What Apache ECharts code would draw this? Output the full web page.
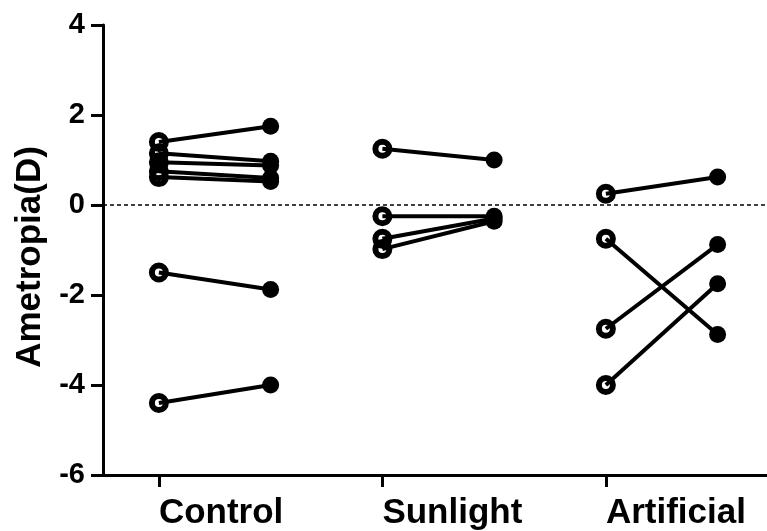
<!DOCTYPE html>
<html>
<head>
<meta charset="utf-8">
<script src="https://cdn.jsdelivr.net/npm/echarts@6/dist/echarts.min.js"></script>
<style>
  html, body { margin: 0; padding: 0; background: #fff; }
  #chart { width: 767px; height: 531px; }
</style>
</head>
<body>
<div id="chart"></div>
<script>
// Group names and tick labels
const groups = ['Control', 'Sunlight', 'Artificial'];
const yTicks = [-6, -4, -2, 0, 2, 4];

// Ametropia (D) per subject: before (open) and after (filled)
const controlBefore    = [1.4, 1.15, 0.95, 0.75, 0.62, -1.5, -4.4];
const controlAfter     = [1.75, 0.97, 0.88, 0.6, 0.52, -1.88, -4.0];
const sunlightBefore   = [1.25, -0.25, -0.75, -0.98];
const sunlightAfter    = [1.0, -0.25, -0.3, -0.36];
const artificialBefore = [0.25, -0.75, -2.75, -4.0];
const artificialAfter  = [0.62, -2.88, -0.88, -1.75];

const groupData = [
  [controlBefore, controlAfter],
  [sunlightBefore, sunlightAfter],
  [artificialBefore, artificialAfter]
];

// x positions: each group gets a "before" slot and an "after" slot
const slotBefore = [1, 3, 5];
const slotAfter  = [2, 4, 6];

const font = '"Liberation Sans", Arial, sans-serif';
const series = [];
const openPts = [];
const filledPts = [];

groupData.forEach(([before, after], g) => {
  before.forEach((v, i) => {
    series.push({
      type: 'line',
      data: [[slotBefore[g], v], [slotAfter[g], after[i]]],
      showSymbol: false,
      symbol: 'none',
      lineStyle: { color: '#000', width: 4 },
      z: 2,
      silent: true
    });
    openPts.push([slotBefore[g], v]);
    filledPts.push([slotAfter[g], after[i]]);
  });
});

series.push({
  type: 'scatter',
  data: openPts,
  symbol: 'circle',
  symbolSize: 14,
  itemStyle: { color: 'rgba(0,0,0,0)', borderColor: '#000', borderWidth: 6, opacity: 1 },
  z: 3
});
series.push({
  type: 'scatter',
  data: filledPts,
  symbol: 'circle',
  symbolSize: 17,
  itemStyle: { color: '#000', opacity: 1 },
  z: 4,
  markLine: {
    silent: true,
    symbol: 'none',
    label: { show: false },
    lineStyle: { color: '#000', width: 1.5, type: [4, 3] },
    data: [{ yAxis: 0 }]
  }
});

const chart = echarts.init(document.getElementById('chart'));
chart.setOption({
  animation: false,
  backgroundColor: '#fff',
  grid: { left: 103, right: 0, top: 25, bottom: 56, containLabel: false, outerBoundsMode: 'none' },
  xAxis: {
    type: 'value',
    min: 0.5,
    max: 0.5 + 664 / 111.75,
    splitLine: { show: false },
    axisLine: { show: true, onZero: false, lineStyle: { color: '#000', width: 3 } },
    axisTick: { show: true, customValues: slotBefore, length: 12, lineStyle: { color: '#000', width: 3 } },
    axisLabel: {
      customValues: slotBefore,
      formatter: (v) => groups[slotBefore.indexOf(v)] || '',
      align: 'left',
      margin: 21,
      color: '#000',
      fontFamily: font,
      fontWeight: 'bold',
      fontSize: 35
    }
  },
  yAxis: {
    type: 'value',
    min: yTicks[0],
    max: yTicks[yTicks.length - 1],
    interval: 2,
    name: 'Ametropia(D)',
    nameLocation: 'middle',
    nameGap: 54,
    nameTextStyle: { color: '#000', fontFamily: font, fontWeight: 'bold', fontSize: 35, padding: [0, 14, 0, 0] },
    splitLine: { show: false },
    axisLine: { show: true, lineStyle: { color: '#000', width: 3 } },
    axisTick: { show: true, length: 12, lineStyle: { color: '#000', width: 3 } },
    axisLabel: {
      margin: 18,
      color: '#000',
      fontFamily: font,
      fontWeight: 'bold',
      fontSize: 29
    }
  },
  series: series
});
</script>
</body>
</html>
